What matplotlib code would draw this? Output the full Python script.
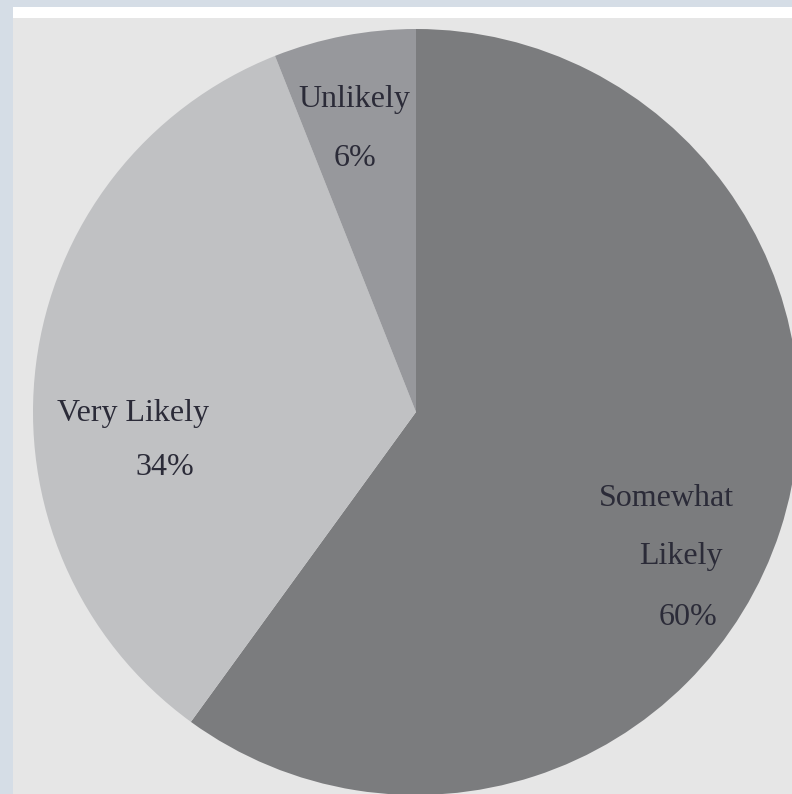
import matplotlib
matplotlib.use("Agg")
import matplotlib.pyplot as plt
from matplotlib.patches import Rectangle

# data
categories = ["Somewhat Likely", "Very Likely", "Unlikely"]
shares = [60, 34, 6]
colors = ["#7b7c7e", "#c0c1c3", "#97989c"]

# label lines, placed in data coords of a unit pie (layout only)
label_lines = [
    ("Somewhat", 0.653, -0.225),
    ("Likely", 0.692, -0.378),
    ("{}%".format(shares[0]), 0.710, -0.536),
    ("Very Likely", -0.739, -0.003),
    ("{}%".format(shares[1]), -0.655, -0.146),
    ("Unlikely", -0.162, 0.817),
    ("{}%".format(shares[2]), -0.159, 0.661),
]

W, H = 792, 794
fig = plt.figure(figsize=(W / 100, H / 100), dpi=100)
fig.patch.set_facecolor("#d5dde6")

# white strip and grey panel behind the chart (below the axes)
fig.patches.append(Rectangle((13 / W, 0), 1, (H - 7) / H, transform=fig.transFigure,
                             facecolor="white", edgecolor="none", zorder=-2))
fig.patches.append(Rectangle((13 / W, 0), 1, (H - 18) / H, transform=fig.transFigure,
                             facecolor="#e6e6e6", edgecolor="none", zorder=-1))

cx, cy, r = 416, 412, 383
ax = fig.add_axes([(cx - r) / W, (H - cy - r) / H, 2 * r / W, 2 * r / H])
ax.patch.set_alpha(0)

ax.pie(shares, colors=colors, startangle=90, counterclock=False, radius=1,
       wedgeprops=dict(linewidth=0))
ax.set_xlim(-1, 1)
ax.set_ylim(-1, 1)
ax.set_aspect("auto")
ax.axis("off")

for text, x, y in label_lines:
    ax.text(x, y, text, ha="center", va="center", fontsize=23,
            family="Liberation Serif", color="#2b2b38")

fig.savefig("out.png", dpi=100, facecolor=fig.get_facecolor())
